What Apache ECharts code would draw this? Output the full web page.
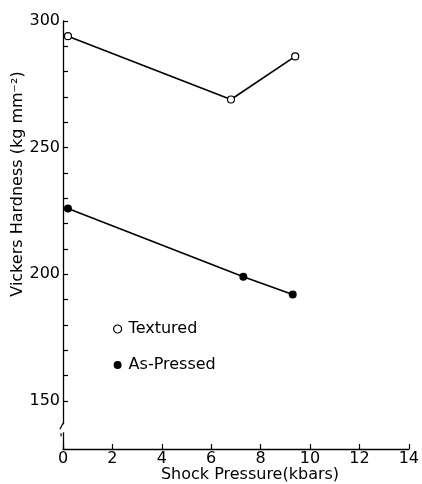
<!DOCTYPE html>
<html><head><meta charset="utf-8">
<script src="https://cdn.jsdelivr.net/npm/echarts@6/dist/echarts.min.js"></script>
<style>html,body{margin:0;padding:0;background:#fff}#c{width:422px;height:484px}</style>
</head><body><div id="c"></div>
<script>
const seriesNames = ['Textured', 'As-Pressed'];
const texturedX = [0.2, 6.8, 9.4];
const texturedY = [294, 269, 286];
const pressedX = [0.2, 7.3, 9.3];
const pressedY = [226, 199, 192];
const xTicks = [0, 2, 4, 6, 8, 10, 12, 14];
const yLabels = [150, 200, 250, 300];
const yMinorTicks = [150, 160, 170, 180, 190, 200, 210, 220, 230, 240, 250, 260, 270, 280, 290, 300];
const xTitle = 'Shock Pressure(kbars)';
const yTitle = 'Vickers Hardness (kg mm\u207B\u00B2)';

const FONT = 'DejaVu Sans';
const chart = echarts.init(document.getElementById('c'), null, {renderer: 'canvas'});
const zip = (xs, ys) => xs.map((x, i) => [x, ys[i]]);
const option = {
  backgroundColor: '#fff',
  animation: false,
  textStyle: {fontFamily: FONT, color: '#000'},
  grid: {left: 63, right: 8, top: 21, bottom: 35, containLabel: false},
  legend: {
    orient: 'vertical', left: 108, top: 316, itemGap: 20,
    itemWidth: 8, itemHeight: 8,
    textStyle: {fontFamily: FONT, fontSize: 16, color: '#000', padding: [0, 0, 0, 2]},
    data: [
      {name: seriesNames[0], icon: 'circle', itemStyle: {color: '#fff', borderColor: '#000', borderWidth: 1.2}},
      {name: seriesNames[1], icon: 'circle', itemStyle: {color: '#000'}}
    ]
  },
  xAxis: {
    type: 'value', min: xTicks[0], max: xTicks[xTicks.length - 1], interval: 2,
    splitLine: {show: false},
    axisLine: {lineStyle: {color: '#000', width: 1.3}},
    axisTick: {inside: true, length: 5, lineStyle: {color: '#000', width: 1.2}},
    axisLabel: {fontFamily: FONT, fontSize: 16, color: '#000', margin: 2}
  },
  yAxis: {
    type: 'value', min: 131, max: 300,
    splitLine: {show: false},
    axisLine: {show: true, lineStyle: {color: '#000', width: 1.3}},
    axisTick: {inside: true, length: 5, customValues: yMinorTicks, lineStyle: {color: '#000', width: 1.2}},
    axisLabel: {fontFamily: FONT, fontSize: 16, color: '#000', margin: 3, customValues: yLabels}
  },
  series: [
    {
      name: seriesNames[0], type: 'line', data: zip(texturedX, texturedY),
      symbol: 'circle', symbolSize: 7,
      itemStyle: {color: '#fff', borderColor: '#000', borderWidth: 1.2},
      lineStyle: {color: '#000', width: 1.6}
    },
    {
      name: seriesNames[1], type: 'line', data: zip(pressedX, pressedY),
      symbol: 'circle', symbolSize: 8,
      itemStyle: {color: '#000'},
      lineStyle: {color: '#000', width: 1.6}
    }
  ]
};
chart.setOption(option);

const p150 = chart.convertToPixel({gridIndex: 0}, [0, 150]);
const pMin = chart.convertToPixel({gridIndex: 0}, [0, 131]);
const bx = p150[0];
const by = p150[1] + (pMin[1] - p150[1]) * 0.55;
chart.setOption({
  graphic: [
    {type: 'rect', shape: {x: bx - 4, y: by - 3, width: 8, height: 8}, style: {fill: '#fff'}, z: 100},
    {type: 'polyline', shape: {points: [[bx, by - 4], [bx - 3, by + 2]]}, style: {stroke: '#000', lineWidth: 1.2, fill: null}, z: 101},
    {type: 'polyline', shape: {points: [[bx - 2, by + 6], [bx - 2, by + 9]]}, style: {stroke: '#000', lineWidth: 1.2, fill: null}, z: 101},
    {type: 'text', x: 250, y: 475, style: {text: xTitle, font: '16px "DejaVu Sans"', fill: '#000', align: 'center', verticalAlign: 'middle'}},
    {type: 'text', x: 18, y: 184, rotation: Math.PI / 2, style: {text: yTitle, font: '16px "DejaVu Sans"', fill: '#000', align: 'center', verticalAlign: 'middle'}}
  ]
});
</script></body></html>
